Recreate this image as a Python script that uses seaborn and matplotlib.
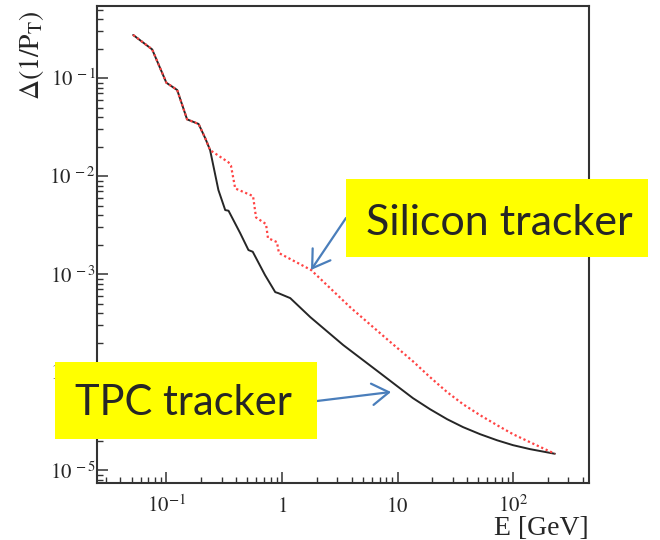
import numpy as np
import pandas as pd
import matplotlib
matplotlib.use("Agg")
import matplotlib.pyplot as plt
from matplotlib.patches import Rectangle
from matplotlib.ticker import LogLocator, FixedLocator, FuncFormatter, NullFormatter
import seaborn as sns

# Momentum resolution vs. energy for two tracking options
tpc_energy = [0.0516, 0.0753, 0.100, 0.124, 0.151, 0.190, 0.217, 0.239, 0.282, 0.323,
              0.345, 0.435, 0.513, 0.559, 0.713, 0.875, 0.929, 1.18, 1.76, 3.39,
              7.08, 9.93, 13.6, 19.1, 26.9, 36.9, 51.8, 72.6, 99.8, 140, 230]
tpc_dpt = [0.275, 0.196, 0.0895, 0.0755, 0.0379, 0.034, 0.0243, 0.0184, 0.0072, 0.0045,
           0.00443, 0.00262, 0.00176, 0.00169, 0.00098, 6.55e-4, 6.4e-4, 5.69e-4, 3.64e-4, 1.89e-4,
           9.77e-5, 7.2e-5, 5.43e-5, 4.19e-5, 3.31e-5, 2.75e-5, 2.33e-5, 2.02e-5, 1.8e-5, 1.64e-5, 1.47e-5]

si_energy = [0.0516, 0.0753, 0.100, 0.124, 0.151, 0.190, 0.217, 0.239, 0.345, 0.362,
             0.394, 0.562, 0.597, 0.728, 0.757, 0.905, 0.942, 1.79, 3.89, 8.3,
             13.6, 19.1, 26.9, 36.9, 51.8, 72.6, 99.8, 140, 230]
si_dpt = [0.275, 0.196, 0.0895, 0.0755, 0.0379, 0.034, 0.0243, 0.0184, 0.0138, 0.0128,
          0.00748, 0.00625, 0.00378, 0.00324, 0.00233, 0.00212, 0.00164, 0.0011, 4.6e-4, 2.12e-4,
          1.29e-4, 8.9e-5, 6.25e-5, 4.71e-5, 3.64e-5, 2.88e-5, 2.33e-5, 1.93e-5, 1.47e-5]

x_major = [0.1, 1, 10, 100]
y_major = [1e-5, 1e-4, 1e-3, 1e-2, 1e-1]

tpc = pd.DataFrame({"E": tpc_energy, "dpt": tpc_dpt})
si = pd.DataFrame({"E": si_energy, "dpt": si_dpt})

sns.set_style("white")
plt.rcParams["mathtext.fontset"] = "stix"
plt.rcParams["font.family"] = ["Liberation Serif", "DejaVu Serif"]

W, H = 660, 540
fig = plt.figure(figsize=(W / 100, H / 100), dpi=100)
ax = fig.add_axes([97 / W, 1 - 483 / H, (589 - 97) / W, (483 - 6) / H])

sns.lineplot(data=tpc, x="E", y="dpt", ax=ax, color="#262626", lw=1.4,
             estimator=None, sort=False)
sns.lineplot(data=si, x="E", y="dpt", ax=ax, color="#ff4444", lw=1.6,
             estimator=None, sort=False, linestyle=(0, (1.0, 1.2)))

ax.set_xscale("log")
ax.set_yscale("log")
ax.set_xlim(0.0251, 454)
ax.set_ylim(7.4e-6, 0.543)


def x_fmt(v, pos):
    e = int(round(np.log10(v)))
    if e == 0:
        return r"$1$"
    if e == 1:
        return r"$10$"
    return r"$10^{%d}$" % e


def y_fmt(v, pos):
    e = int(round(np.log10(v)))
    return r"$10^{\,%d}$" % e


ax.xaxis.set_major_locator(FixedLocator(x_major))
ax.xaxis.set_major_formatter(FuncFormatter(x_fmt))
ax.xaxis.set_minor_locator(LogLocator(base=10, subs=np.arange(2, 10), numticks=20))
ax.xaxis.set_minor_formatter(NullFormatter())
ax.yaxis.set_major_locator(FixedLocator(y_major))
ax.yaxis.set_major_formatter(FuncFormatter(y_fmt))
ax.yaxis.set_minor_locator(LogLocator(base=10, subs=np.arange(2, 10), numticks=20))
ax.yaxis.set_minor_formatter(NullFormatter())

ax.tick_params(axis="both", which="both", direction="in", color="#333333",
               bottom=True, left=True, top=False, right=False)
ax.tick_params(axis="both", which="major", length=8, width=1.1, labelsize=15)
ax.tick_params(axis="both", which="minor", length=4.5, width=1.0)
ax.tick_params(axis="y", which="major", pad=1)
ax.tick_params(axis="x", which="major", pad=21)
for lbl in ax.get_xticklabels():
    lbl.set_verticalalignment("baseline")

for s in ax.spines.values():
    s.set_color("#333333")
    s.set_linewidth(1.5)

ax.set_xlabel("E [GeV]", fontsize=20, loc="right")
ax.xaxis.set_label_coords(1.0, -(535 - 483) / 477)
ax.xaxis.label.set_verticalalignment("baseline")
ax.set_ylabel(r"$\Delta(1/\mathrm{P}_{\mathrm{T}})$", fontsize=20, loc="top")
ax.yaxis.label.set_horizontalalignment("right")
ax.yaxis.label.set_verticalalignment("bottom")
ax.yaxis.set_label_coords(-(97 - 46) / 492, 1 - 4 / 477)


def fig_box(x0, y0, x1, y1):
    fig.add_artist(Rectangle((x0 / W, 1 - y1 / H), (x1 - x0) / W, (y1 - y0) / H,
                             transform=fig.transFigure, facecolor="#ffff00",
                             edgecolor="none", zorder=5))


label_font = ["Lato", "DejaVu Sans"]
fig_box(346, 179, 648, 257)
fig.text(366 / W, 1 - 235 / H, "Silicon tracker", fontsize=31, family=label_font,
         ha="left", va="baseline", zorder=6)
fig_box(55, 362, 317, 439)
fig.text(75 / W, 1 - 415 / H, "TPC tracker", fontsize=30, family=label_font,
         ha="left", va="baseline", zorder=6)

arrow_kw = dict(arrowstyle="->,head_length=0.55,head_width=0.35", color="#4a7ebb",
                lw=1.6, mutation_scale=22, shrinkA=0, shrinkB=0)
ax.annotate("", xy=(311, H - 270), xycoords="figure pixels",
            xytext=(346, H - 218), textcoords="figure pixels",
            arrowprops=arrow_kw, zorder=7)
ax.annotate("", xy=(391, H - 392), xycoords="figure pixels",
            xytext=(317, H - 401), textcoords="figure pixels",
            arrowprops=arrow_kw, zorder=7)

fig.savefig("out.png", dpi=100)
